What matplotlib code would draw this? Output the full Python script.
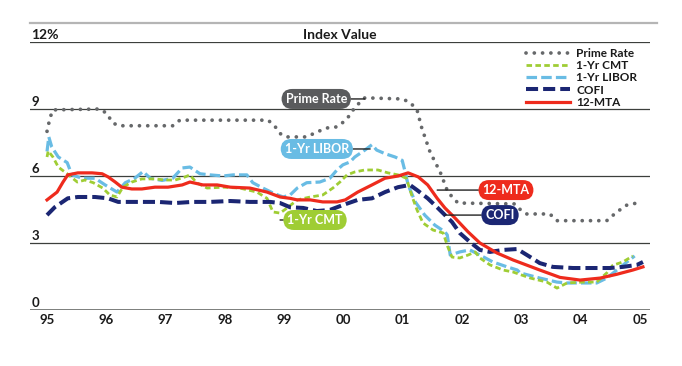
import matplotlib
matplotlib.use("Agg")
import matplotlib.pyplot as plt
from matplotlib.lines import Line2D

plt.rcParams['font.family'] = ['Lato', 'DejaVu Sans']
plt.rcParams['font.weight'] = 'bold'

# ---- data (decimal years, percent) ----
years = [1995, 1996, 1997, 1998, 1999, 2000, 2001, 2002, 2003, 2004, 2005]
year_labels = ['95', '96', '97', '98', '99', '00', '01', '02', '03', '04', '05']
y_ticks = [0, 3, 6, 9, 12]
y_labels = ['0', '3', '6', '9', '12%']

prime_t = [1995.0, 1995.05, 1995.1, 1995.89, 1996.01, 1996.1, 1996.2, 1997.12, 1997.24,
           1998.73, 1998.85, 1998.95, 1999.05, 1999.38, 1999.55, 1999.72, 1999.89, 1999.99,
           2000.08, 2000.2, 2000.36, 2000.99, 2001.12, 2001.24, 2001.32, 2001.46, 2001.63,
           2001.76, 2001.93, 2002.89, 2002.98, 2003.09, 2003.48, 2003.6, 2004.44, 2004.61,
           2004.78, 2004.95]
prime_v = [8.0, 8.6, 8.96, 9.0, 8.8, 8.4, 8.25, 8.25, 8.5,
           8.5, 8.2, 7.85, 7.75, 7.75, 7.97, 8.15, 8.2, 8.4,
           8.64, 9.1, 9.5, 9.45, 9.3, 8.96, 8.15, 7.07, 6.18,
           5.28, 4.79, 4.75, 4.5, 4.3, 4.3, 4.0, 4.0, 4.39,
           4.7, 4.79]

libor_t = [1995.0, 1995.03, 1995.08, 1995.19, 1995.34, 1995.42, 1995.59, 1995.81, 1995.98,
           1996.18, 1996.32, 1996.48, 1996.62, 1996.74, 1996.94, 1997.12, 1997.28, 1997.41,
           1997.58, 1997.75, 1997.97, 1998.14, 1998.37, 1998.47, 1998.64, 1998.81, 1998.98,
           1999.1, 1999.22, 1999.38, 1999.6, 1999.77, 1999.89, 1999.99, 2000.11, 2000.19,
           2000.36, 2000.48, 2000.56, 2000.7, 2000.87, 2000.99, 2001.04, 2001.09, 2001.21,
           2001.37, 2001.54, 2001.71, 2001.75, 2001.8, 2001.96, 2002.13, 2002.3, 2002.52,
           2002.76, 2002.93, 2002.98, 2003.31, 2003.6, 2003.77, 2004.11, 2004.27, 2004.44,
           2004.61, 2004.78, 2004.91]
libor_v = [7.1, 7.75, 7.3, 6.85, 6.6, 6.05, 5.9, 5.9, 5.6,
           5.28, 5.7, 5.9, 6.2, 5.9, 5.8, 5.9, 6.36, 6.4,
           6.1, 6.05, 6.0, 6.05, 6.05, 5.7, 5.46, 5.24, 5.06,
           5.15, 5.46, 5.7, 5.73, 5.9, 6.27, 6.5, 6.63, 6.85,
           7.16, 7.4, 7.16, 7.0, 6.85, 6.7, 6.18, 5.6, 4.84,
           4.25, 3.8, 3.5, 3.36, 2.46, 2.6, 2.69, 2.46, 2.15,
           1.93, 1.79, 1.66, 1.43, 1.25, 1.21, 1.21, 1.21, 1.43,
           1.79, 2.15, 2.42]

cmt_t = [1995.0, 1995.02, 1995.1, 1995.19, 1995.34, 1995.51, 1995.64, 1995.78, 1995.94,
         1996.06, 1996.18, 1996.28, 1996.43, 1996.6, 1996.82, 1996.99, 1997.16, 1997.33,
         1997.41, 1997.52, 1997.7, 1997.97, 1998.25, 1998.54, 1998.71, 1998.81, 1998.93,
         1999.05, 1999.22, 1999.44, 1999.65, 1999.82, 1999.94, 2000.06, 2000.19, 2000.36,
         2000.58, 2000.75, 2000.92, 2001.06, 2001.16, 2001.24, 2001.34, 2001.51, 2001.68,
         2001.76, 2001.83, 2001.96, 2002.1, 2002.22, 2002.3, 2002.47, 2002.69, 2002.86,
         2003.15, 2003.43, 2003.6, 2003.77, 2004.04, 2004.27, 2004.44, 2004.54, 2004.71,
         2004.88]
cmt_v = [6.85, 7.12, 6.85, 6.4, 6.1, 5.73, 5.82, 5.7, 5.46,
         5.15, 5.06, 5.5, 5.73, 5.87, 5.87, 5.82, 5.82, 5.96,
         6.05, 5.7, 5.46, 5.5, 5.46, 5.28, 5.0, 4.39, 4.34,
         4.57, 4.93, 5.06, 5.15, 5.46, 5.73, 6.05, 6.18, 6.27,
         6.27, 6.14, 6.05, 5.9, 5.06, 4.48, 3.9, 3.58, 3.45,
         2.82, 2.37, 2.33, 2.46, 2.6, 2.33, 2.02, 1.79, 1.7,
         1.43, 1.25, 0.98, 1.21, 1.25, 1.25, 1.66, 2.0, 2.15,
         2.42]

cofi_t = [1995.0, 1995.13, 1995.35, 1995.52, 1995.81, 1996.03, 1996.2, 1996.37, 1996.87,
          1997.16, 1997.45, 1997.75, 1998.09, 1998.42, 1998.76, 1998.93, 1999.1, 1999.32,
          1999.55, 1999.77, 1999.99, 2000.24, 2000.48, 2000.7, 2000.92, 2001.12, 2001.24,
          2001.42, 2001.59, 2001.83, 2001.96, 2002.13, 2002.3, 2002.47, 2002.69, 2002.93,
          2003.15, 2003.31, 2003.53, 2003.87, 2004.21, 2004.49, 2004.71, 2004.95, 2005.05]
cofi_v = [4.25, 4.6, 5.0, 5.06, 5.06, 5.0, 4.84, 4.84, 4.84,
          4.79, 4.84, 4.84, 4.88, 4.84, 4.84, 4.79, 4.6, 4.57,
          4.43, 4.48, 4.7, 4.93, 5.0, 5.28, 5.5, 5.6, 5.37,
          5.0, 4.57, 3.94, 3.45, 3.05, 2.69, 2.6, 2.69, 2.73,
          2.37, 2.1, 1.93, 1.88, 1.88, 1.88, 1.93, 2.02, 2.15]

mta_t = [1995.0, 1995.17, 1995.27, 1995.35, 1995.52, 1995.76, 1995.93, 1996.03, 1996.15,
         1996.26, 1996.43, 1996.6, 1996.82, 1997.04, 1997.28, 1997.41, 1997.63, 1997.87,
         1998.09, 1998.42, 1998.71, 1998.93, 1999.1, 1999.22, 1999.44, 1999.65, 1999.89,
         2000.03, 2000.24, 2000.48, 2000.7, 2000.92, 2001.09, 2001.26, 2001.42, 2001.58,
         2001.71, 2001.88, 2002.1, 2002.3, 2002.59, 2002.86, 2003.31, 2003.65, 2003.99,
         2004.33, 2004.61, 2004.88, 2005.05]
mta_v = [4.93, 5.28, 5.73, 6.05, 6.14, 6.14, 6.1, 5.96, 5.73,
         5.5, 5.42, 5.42, 5.5, 5.5, 5.6, 5.73, 5.6, 5.6,
         5.5, 5.46, 5.28, 5.06, 5.0, 4.93, 4.93, 4.84, 4.84,
         4.93, 5.28, 5.6, 5.9, 6.0, 6.14, 5.96, 5.6, 5.0,
         4.57, 4.12, 3.5, 3.0, 2.55, 2.24, 1.79, 1.46, 1.34,
         1.43, 1.6, 1.79, 1.93]

# label pills: text, colour, centre (year, value), leader end year
tags = [
    ("Prime Rate", "#5a5b5d", 1999.54, 9.45, 2000.36),
    ("1-Yr LIBOR", "#69bce4", 1999.55, 7.21, 2000.45),
    ("1-Yr CMT", "#9fcd34", 1999.52, 4.03, 1998.93),
    ("12-MTA", "#ee2b1d", 2002.74, 5.37, 2001.58),
    ("COFI", "#1b2673", 2002.64, 4.25, 2001.71),
]

# ---- figure ----
W, H = 682, 366
fig = plt.figure(figsize=(W / 100, H / 100), dpi=100)
fig.patch.set_facecolor('white')

x0, x1, ytop, ybot = 30, 650, 42, 310
ax = fig.add_axes([x0 / W, (H - ybot) / H, (x1 - x0) / W, (ybot - ytop) / H])
ax.set_xlim(1994.713, 2005.169)
ax.set_ylim(0, 12)
for s in ax.spines.values():
    s.set_visible(False)
ax.set_yticks([])
ax.set_xticks(years)
ax.set_xticklabels(year_labels, fontsize=9.5, fontweight='bold', color='#1a1a1a')
ax.tick_params(axis='x', length=0, pad=3)

# gridlines
for v in y_ticks[1:]:
    ax.axhline(v, color='#3c3f3c', lw=0.9, zorder=1)
ax.axhline(0, color='#555855', lw=1.8, zorder=1)
for v, lab in zip(y_ticks, y_labels):
    ax.annotate(lab, (0, v), xycoords=('axes fraction', 'data'),
                xytext=(1, 2.5), textcoords='offset points', ha='left', va='baseline',
                fontsize=9.5 if lab != '12%' else 10, fontweight='bold', color='#1a1a1a')
ax.text(sum(ax.get_xlim()) / 2, 12.15, "Index Value", ha='center', va='baseline',
        fontsize=10, fontweight='bold', color='#1a1a1a')

# top rule
fig.add_artist(Line2D([30 / W, 657 / W], [1 - 23 / H, 1 - 23 / H], color='#b5b5b5', lw=1.6))

# ---- series ----
ax.plot(prime_t, prime_v, color='#66686a', lw=2.7, ls=(0, (0.01, 2.2)),
        dash_capstyle='round', zorder=3, label='Prime Rate')
ax.plot(cmt_t, cmt_v, color='#9fcd34', lw=2.0, ls=(0, (2.0, 1.2)), zorder=4, label='1-Yr CMT')
ax.plot(libor_t, libor_v, color='#69bce4', lw=2.3, ls=(0, (3.3, 1.3)), zorder=3.5, label='1-Yr LIBOR')
ax.plot(cofi_t, cofi_v, color='#1b2673', lw=2.9, ls=(0, (3.0, 1.25)), zorder=5, label='COFI')
ax.plot(mta_t, mta_v, color='#ee2b1d', lw=2.3, zorder=6, label='12-MTA')

leg = ax.legend(loc='upper left', bbox_to_anchor=(526 / W, 1 - 48 / H),
                bbox_transform=fig.transFigure, frameon=False, fontsize=8.5,
                handlelength=3.7, handletextpad=0.55, labelspacing=0.1,
                borderpad=0, borderaxespad=0)
for t in leg.get_texts():
    t.set_fontweight('bold')
    t.set_color('#1a1a1a')

# ---- label pills with leaders ----
for text, col, tx, ty, lx in tags:
    ax.annotate(text, xy=(lx, ty), xytext=(tx, ty), ha='center', va='center',
                fontsize=9, fontweight='bold', color='white', zorder=8,
                bbox=dict(boxstyle='round,pad=0.32,rounding_size=0.85', fc=col, ec='none'),
                arrowprops=dict(arrowstyle='-', color='#222222', lw=1.0,
                                shrinkA=0, shrinkB=0))

fig.savefig('out.png', dpi=100)
